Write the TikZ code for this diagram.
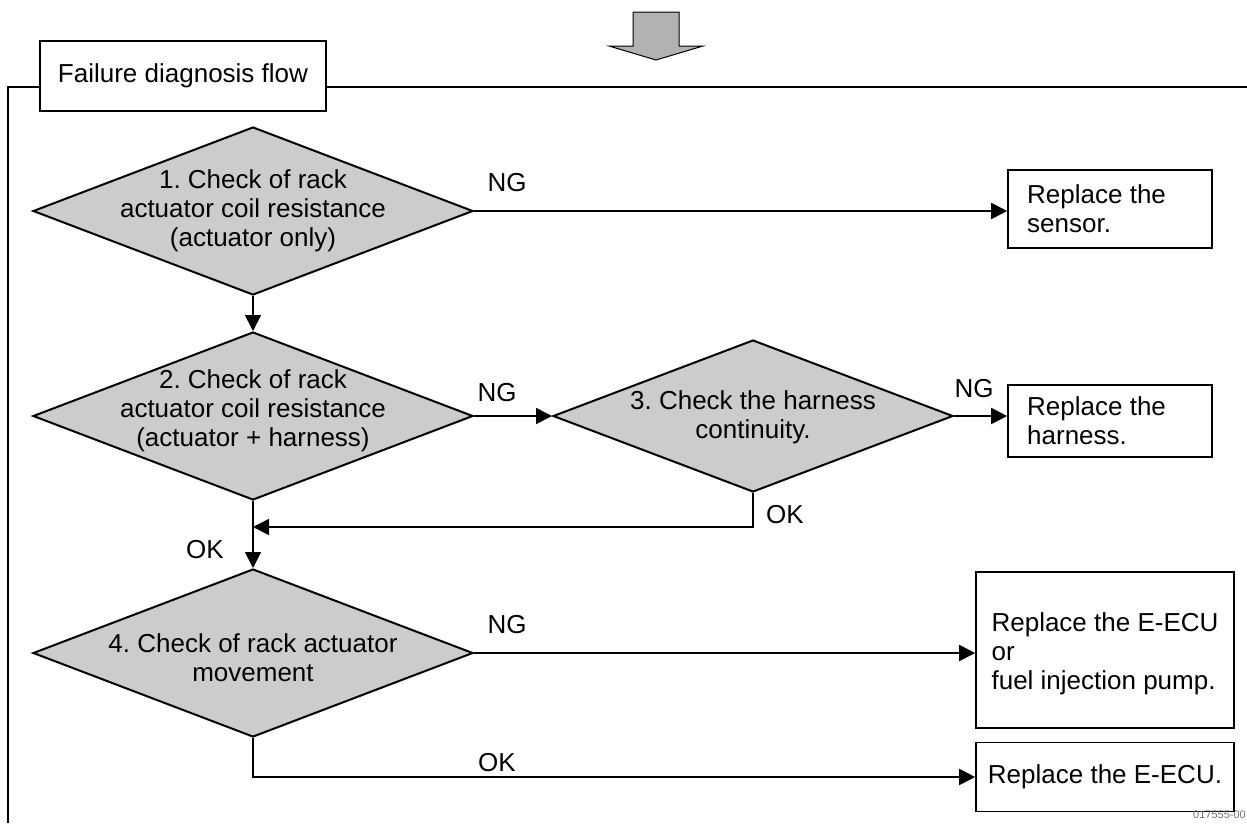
\documentclass[tikz,border=0pt]{standalone}
\usepackage{fontspec}
\setmainfont{Liberation Sans}
\usetikzlibrary{shapes.geometric,arrows.meta}
\frenchspacing
\begin{document}
\begin{tikzpicture}[x=1pt,y=-1pt,
  font=\fontsize{26}{29}\selectfont,
  dia/.style={diamond, draw=black, line width=2pt, fill=black!20, inner sep=0pt},
  dtext/.style={align=center, inner sep=0pt},
  box/.style={draw=black, line width=1.6pt, fill=white, inner sep=0pt},
  lbl/.style={inner sep=0pt},
  conn/.style={line width=1.8pt},
  arr/.style={conn, -{Triangle[length=16pt,width=16pt]}}
]
\useasboundingbox (0,0) rectangle (1247,823);

% top block arrow
\draw[line width=1pt, fill=black!30] (633,12) -- (679,12) -- (679,46) -- (703,46) -- (656,60) -- (609,46) -- (633,46) -- cycle;

% frame
\draw[line width=1.8pt] (1247,87) -- (8,87) -- (8,823);
\node[box, minimum width=286pt, minimum height=70pt] (title) at (183,76) {Failure diagnosis flow};

% diamonds
\node[dia, minimum width=440pt, minimum height=168pt] (d1) at (253,211) {};
\node[dtext] (d1t) at (253,211) {1. Check of rack\\actuator coil resistance\\(actuator only)};
\node[dia, minimum width=440pt, minimum height=168pt] (d2) at (253,416) {};
\node[dtext] (d2t) at (253,411) {2. Check of rack\\actuator coil resistance\\(actuator + harness)};
\node[dia, minimum width=400pt, minimum height=152pt] (d3) at (753,416) {};
\node[dtext] (d3t) at (753,417) {3. Check the harness\\continuity.};
\node[dia, minimum width=440pt, minimum height=168pt] (d4) at (253,653) {};
\node[dtext] (d4t) at (253,658) {4. Check of rack actuator\\movement};

% result boxes
\node[box, minimum width=204pt, minimum height=78pt] (sensor) at (1110,209) {};
\node[lbl, anchor=west, align=left] (sensort) at (1027,209) {Replace the\\sensor.};
\node[box, minimum width=204pt, minimum height=72pt] (harness) at (1110,421) {};
\node[lbl, anchor=west, align=left] (harnesst) at (1027,421) {Replace the\\harness.};
\node[box, minimum width=258pt, minimum height=156pt] (ecu1) at (1105,650) {};
\node[lbl, align=left] (ecu1t) at (1105,654) {Replace the E-ECU\\or\\fuel injection pump.};
\node[box, minimum width=258pt, minimum height=69pt] (ecu2) at (1105,777) {Replace the E-ECU.};

% connectors
\coordinate (j) at (253,527);
\draw[arr] (d1.east) -- (d1.east -| sensor.west);
\draw[arr] (d1.south) -- (d2.north);
\draw[arr] (d2.east) -- (d3.west);
\draw[arr] (d3.east) -- (d3.east -| harness.west);
\draw[arr] (d3.south) |- (j);
\draw[arr] (d2.south) -- (d4.north);
\draw[arr] (d4.east) -- (d4.east -| ecu1.west);
\draw[arr] (d4.south) |- (ecu2.west);

% labels
\node[lbl] (ng1) at (507,183) {NG};
\node[lbl] (ng2) at (497,393) {NG};
\node[lbl] (ng3) at (974,389) {NG};
\node[lbl] (ng4) at (507,625) {NG};
\node[lbl] (ok3) at (785,515) {OK};
\node[lbl] (ok2) at (205,550) {OK};
\node[lbl] (ok4) at (497,763) {OK};
\node[lbl, anchor=east, text=black!55, font=\fontsize{11}{13}\selectfont] (fig) at (1246,815) {017555-00};
\end{tikzpicture}
\end{document}
